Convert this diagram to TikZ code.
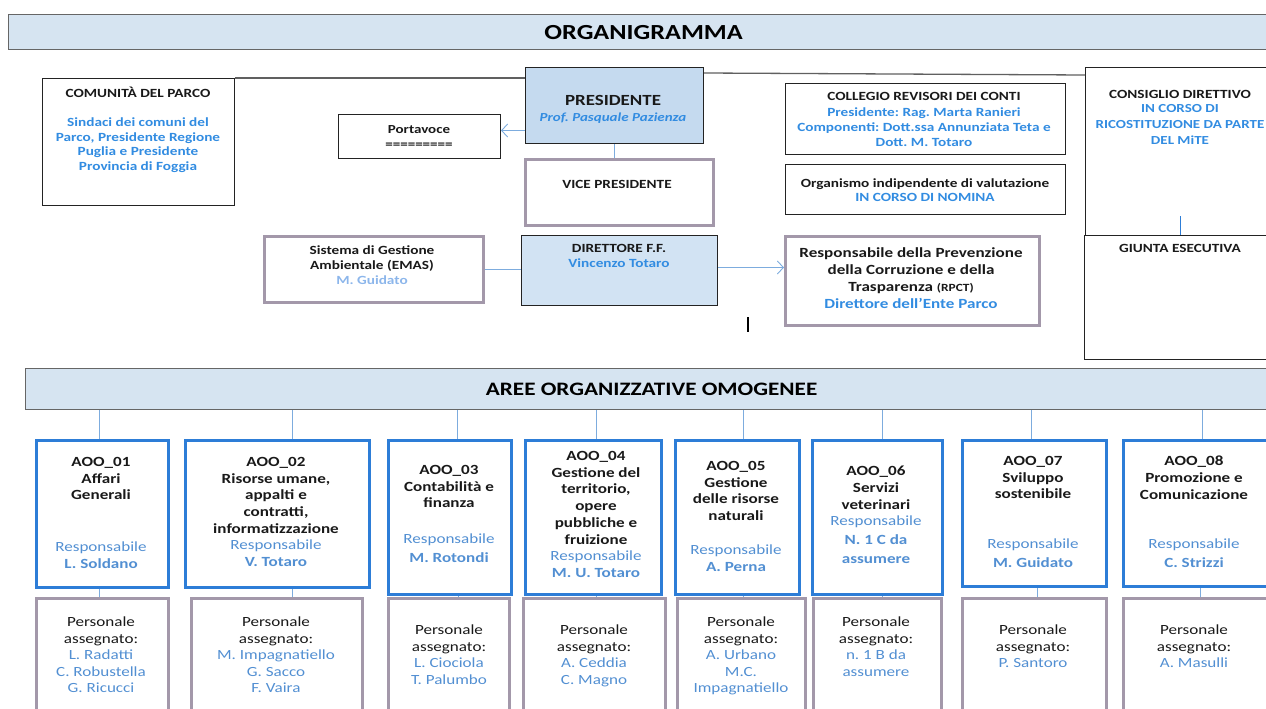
\documentclass[tikz,border=0pt]{standalone}
\usepackage{fontspec}
\setmainfont{Carlito}[FakeStretch=1.22]
\usetikzlibrary{arrows.meta,positioning}
\frenchspacing

\definecolor{barfill}{RGB}{214,228,241}
\definecolor{presfill}{RGB}{197,218,239}
\definecolor{dirfill}{RGB}{210,227,243}
\definecolor{nameblue}{RGB}{50,140,225}
\definecolor{respblue}{RGB}{82,143,210}
\definecolor{paleblue}{RGB}{140,182,235}
\definecolor{aooblue}{RGB}{45,125,215}
\definecolor{mauve}{RGB}{163,152,170}
\definecolor{linkblue}{RGB}{125,172,222}
\definecolor{edge}{RGB}{35,35,35}
\definecolor{ink}{RGB}{25,25,25}

\tikzset{
  box/.style={draw=edge, line width=1pt, inner sep=0pt, anchor=north west},
  mauvebox/.style={draw=mauve, line width=2.6pt, inner sep=0pt, anchor=north west},
  aoobox/.style={draw=aooblue, line width=3pt, inner sep=0pt, anchor=north west},
  bar/.style={draw=gray!80!black, line width=1.2pt, fill=barfill, inner sep=0pt, anchor=north west},
  txt/.style={anchor=north, align=center, inner sep=0pt, text=ink},
  smalltxt/.style={txt, font=\fontsize{12.5}{14.8}\selectfont\bfseries},
  bluetxt/.style={smalltxt, text=nameblue},
  aootxt/.style={txt, font=\fontsize{14}{16.8}\selectfont\bfseries},
  resptxt/.style={txt, text=respblue, font=\fontsize{14}{16.2}\selectfont},
  perstxt/.style={txt, font=\fontsize{14}{16.5}\selectfont},
  link/.style={draw=linkblue, line width=0.9pt},
  rule/.style={draw=gray!75!black, line width=1.3pt},
  barb/.style={-{Straight Barb[length=6pt,width=13pt]}},
}

\begin{document}
\begin{tikzpicture}[x=1pt,y=-1pt]
\useasboundingbox (0,0) rectangle (1266,709);
\clip (0,0) rectangle (1266,709);

% Titolo
\node[bar, minimum width=1270, minimum height=35,
      font=\fontsize{21.5}{24}\selectfont\bfseries] (titolo) at (8,14) {ORGANIGRAMMA};

% Organi
\node[box, minimum width=192, minimum height=127] (comunita) at (42,78) {};
\node[box, fill=presfill, minimum width=178, minimum height=76] (presidente) at (525,67) {};
\node[box, minimum width=162, minimum height=44] (portavoce) at (338,114) {};
\node[mauvebox, minimum width=188, minimum height=66] (vice) at (524,158) {};
\node[box, minimum width=280, minimum height=71] (collegio) at (785,83) {};
\node[box, minimum width=280, minimum height=50] (oiv) at (785,164) {};
\node[box, minimum width=200, minimum height=168] (consiglio) at (1085,67) {};
\node[box, minimum width=200, minimum height=124] (giunta) at (1084,235) {};
\node[mauvebox, minimum width=219, minimum height=66] (emas) at (263,235) {};
\node[box, fill=dirfill, minimum width=196, minimum height=70] (direttore) at (521,235) {};
\node[mauvebox, minimum width=254, minimum height=89] (rpct) at (784,235) {};

% Testi organi
\node[smalltxt] (comunitaT) at (138,86.5) {COMUNITÀ DEL PARCO};
\node[bluetxt] (comunitaN) at (138,117.3)
  {Sindaci dei comuni del\\Parco, Presidente Regione\\Puglia e Presidente\\Provincia di Foggia};
\node[txt, font=\fontsize{15.5}{16}\selectfont\bfseries] (presidenteT) at (613,95) {PRESIDENTE};
\node[bluetxt, font=\fontsize{12.3}{14}\selectfont\bfseries\itshape] (presidenteN) at (613,112.5)
  {Prof. Pasquale Pazienza};
\node[smalltxt, font=\fontsize{12.3}{15}\selectfont\bfseries] (portavoceT) at (419,125.5) {Portavoce\\=========};
\node[smalltxt] (viceT) at (617,180.5) {VICE PRESIDENTE};
\node[smalltxt] (collegioT) at (924,92.5) {COLLEGIO REVISORI DEI CONTI};
\node[bluetxt] (collegioN) at (924,107.5)
  {Presidente: Rag. Marta Ranieri\\Componenti: Dott.ssa Annunziata Teta e\\Dott. M. Totaro};
\node[smalltxt] (oivT) at (925,178.5) {Organismo indipendente di valutazione};
\node[bluetxt] (oivN) at (925,193.5) {IN CORSO DI NOMINA};
\node[smalltxt] (consiglioT) at (1180,90.5) {CONSIGLIO DIRETTIVO};
\node[bluetxt, font=\fontsize{12.3}{15.8}\selectfont\bfseries] (consiglioN) at (1180,104.5)
  {IN CORSO DI\\RICOSTITUZIONE DA PARTE\\DEL MiTE};
\node[smalltxt] (giuntaT) at (1180,244.5) {GIUNTA ESECUTIVA};
\node[smalltxt, font=\fontsize{12.5}{15}\selectfont\bfseries] (emasT) at (372,245.5)
  {Sistema di Gestione\\Ambientale (EMAS)};
\node[bluetxt, text=paleblue] (emasN) at (372,275.5) {M. Guidato};
\node[smalltxt] (direttoreT) at (619,244.5) {DIRETTORE F.F.};
\node[bluetxt] (direttoreN) at (619,258.5) {Vincenzo Totaro};
\node[aootxt, font=\fontsize{14}{17}\selectfont\bfseries] (rpctT) at (911,247)
  {Responsabile della Prevenzione\\della Corruzione e della\\Trasparenza {\fontsize{11}{17}\selectfont(RPCT)}};
\node[aootxt, text=nameblue] (rpctN) at (911,298) {Direttore dell'Ente Parco};

% Collegamenti organi
\draw[rule] (comunita.north east) -- (comunita.north east -| presidente.west);
\draw[rule] ([yshift=-6pt]presidente.north east) -- ([yshift=-8pt]consiglio.north west);
\coordinate (pv) at ([yshift=6pt]portavoce.east);
\draw[link, barb] (presidente.west |- pv) -- (pv);
\draw[link] (presidente.south) -- (presidente.south |- vice.north);
\draw[draw=aooblue, line width=0.9pt] ([xshift=-4pt]giunta.north) -- ++(0,-19);
\draw[link] (emas.east) -- (emas.east -| direttore.west);
\draw[link, barb] ([yshift=3pt]direttore.east) -- ([yshift=3pt]direttore.east -| rpct.west);
\draw[line width=1.2pt] (748,317) -- (748,332);

% Aree organizzative omogenee
\node[bar, minimum width=1252, minimum height=41,
      font=\fontsize{19}{23}\selectfont\bfseries] (aree) at (25,368) {AREE ORGANIZZATIVE OMOGENEE};

\foreach \i/\x/\w/\h in {01/35/132/147, 02/184/184/147, 03/387/123/154, 04/524/136/154,
                          05/674/124/154, 06/811/130/154, 07/961/144/146, 08/1122/148/146}
  \node[aoobox, minimum width=\w, minimum height=\h] (aoo\i) at (\x,439) {};

\foreach \i/\x/\w in {01/35/132, 02/190/171, 03/387/121, 04/522/142,
                      05/676/128, 06/812/128, 07/961/144, 08/1122/148}
  \node[mauvebox, minimum width=\w, minimum height=130] (pers\i) at (\x,597) {};

% Collegamenti aree
\foreach \i/\dx/\ddx in {01/-3/-3, 02/15/15, 03/7/8.5, 04/3/3, 05/6/6, 06/5/5, 07/-3/3, 08/5/3}
{
  \draw[link] ([xshift=\dx]aoo\i.north) -- ([xshift=\dx]aoo\i.north |- aree.south);
  \draw[link] ([xshift=\ddx]aoo\i.south) -- ([xshift=\ddx]aoo\i.south |- pers\i.north);
}

% Testi aree
\foreach \i/\cx/\ty/\ttl/\ry/\resp in {
  01/101/457/{AOO\_01\\Affari\\Generali}/542/{Responsabile\\\bfseries L. Soldano},
  02/276/457/{AOO\_02\\Risorse umane,\\appalti e\\contratti,\\informatizzazione}/540/{Responsabile\\\bfseries V. Totaro},
  03/449/465/{AOO\_03\\Contabilità e\\finanza}/534/{Responsabile\\[2.5pt]\bfseries M. Rotondi},
  04/596/451/{AOO\_04\\Gestione del\\territorio,\\opere\\pubbliche e\\fruizione}/551/{Responsabile\\\bfseries M. U. Totaro},
  05/736/461/{AOO\_05\\Gestione\\delle risorse\\naturali}/545/{Responsabile\\\bfseries A. Perna},
  06/876/466/{AOO\_06\\Servizi\\veterinari}/516/{Responsabile\\[2.5pt]\bfseries N. 1 C da\\[2.5pt]\bfseries assumere},
  07/1033/456/{AOO\_07\\Sviluppo\\sostenibile}/539/{Responsabile\\[2pt]\bfseries M. Guidato},
  08/1194/456/{AOO\_08\\Promozione e\\Comunicazione}/539/{Responsabile\\[2pt]\bfseries C. Strizzi}}
{
  \node[aootxt] (aooT\i) at (\cx,\ty) {\ttl};
  \node[resptxt] (aooR\i) at (\cx,\ry) {\resp};
}

\foreach \i/\cx/\ty/\names in {
  01/101/617/{L. Radatti\\C. Robustella\\G. Ricucci},
  02/276/617/{M. Impagnatiello\\G. Sacco\\F. Vaira},
  03/449/625/{L. Ciociola\\T. Palumbo},
  04/594/625/{A. Ceddia\\C. Magno},
  05/741/617/{A. Urbano\\M.C.\\Impagnatiello},
  06/876/617/{n. 1 B da\\assumere},
  07/1033/625/{P. Santoro},
  08/1194/625/{A. Masulli}}
{
  \node[perstxt] (persT\i) at (\cx,\ty) {Personale\\assegnato:};
  \node[perstxt, text=respblue] (persN\i) at (\cx,\ty+33) {\names};
}

\end{tikzpicture}
\end{document}
